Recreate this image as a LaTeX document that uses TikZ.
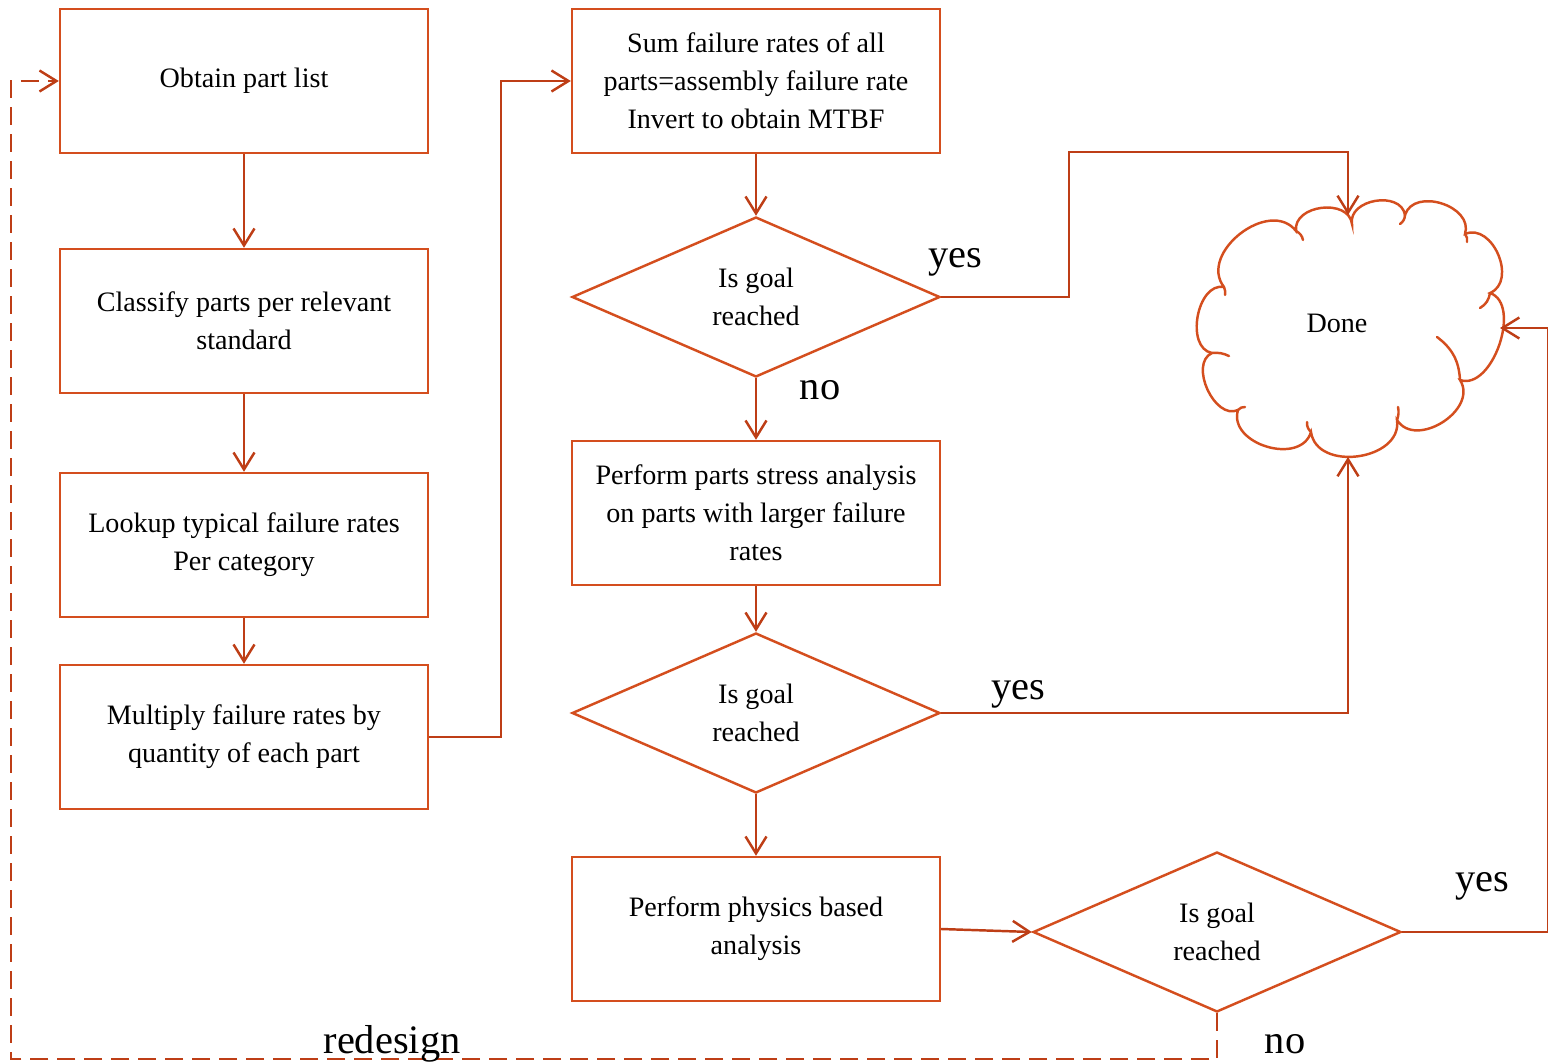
\documentclass[tikz,border=0pt]{standalone}
\usepackage{fontspec}
\setmainfont{Liberation Serif}
\usetikzlibrary{shapes.geometric,arrows.meta}
\definecolor{boxc}{RGB}{212,78,30}
\definecolor{linec}{RGB}{190,62,22}
\begin{document}
\begin{tikzpicture}[x=0.02cm,y=-0.02cm,
 txt/.style={font=\fontsize{16}{21.6}\selectfont},
 stepbox/.style={draw=boxc, line width=1.4pt, minimum width=7.36cm, minimum height=2.88cm, align=center, inner sep=0pt, txt},
 decision/.style={draw=boxc, diamond, aspect=2.3, line width=1.4pt, minimum width=7.36cm, minimum height=3.2cm, inner sep=0pt, align=center, txt},
 conn/.style={draw=linec, line width=1.4pt, -{Straight Barb[length=0.34cm,width=0.42cm]}},
 lab/.style={font=\fontsize{23}{27}\selectfont, inner sep=0pt},
 cloudline/.style={draw=boxc, line width=1.4pt, line cap=round},
 puff/.style={bend left=90, looseness=1.2}
]
\useasboundingbox (0,0) rectangle (1548,1064);

\node[stepbox] (o1) at (244,81) {Obtain part list};
\node[stepbox] (o2) at (244,321) {Classify parts per relevant\\standard};
\node[stepbox] (o3) at (244,545) {Lookup typical failure rates\\Per category};
\node[stepbox] (o4) at (244,737) {Multiply failure rates by\\quantity of each part};

\node[stepbox] (s1) at (756,81) {Sum failure rates of all\\parts=assembly failure rate\\Invert to obtain MTBF};
\node[decision] (d1) at (756,297) {Is goal\\reached};
\node[stepbox] (s2) at (756,513) {Perform parts stress analysis\\on parts with larger failure\\rates};
\node[decision] (d2) at (756,713) {Is goal\\reached};
\node[stepbox] (s3) at (756,929) {Perform physics based\\analysis};
\node[decision] (d3) at (1217,932) {Is goal\\reached};

% cloud "Done"
\coordinate (cJ) at (1224,287);
\coordinate (cK) at (1296,231);
\coordinate (cA) at (1352,224);
\coordinate (cB) at (1405,215);
\coordinate (cC) at (1465,234);
\coordinate (cD) at (1490,293);
\coordinate (cE) at (1460,380);
\coordinate (cF) at (1397,420);
\coordinate (cG) at (1311,432);
\coordinate (cH) at (1238,410);
\coordinate (cI) at (1212,353);
\draw[cloudline] (cJ) to[puff] (cK) to[puff] (cA) to[puff] (cB) to[puff] (cC)
  to[puff] (cD) to[bend left=90, looseness=0.95] (cE) to[puff] (cF) to[puff] (cG) to[puff] (cH)
  to[puff,looseness=1.05] (cI) to[puff,looseness=1.05] (cJ);
\draw[cloudline] (cK) to[bend left=25] (1303,240);
\draw[cloudline] (cB) to[bend left=25] (1400,224);
\draw[cloudline] (cC) to[bend left=25] (1467,242);
\draw[cloudline] (cD) to[bend left=25] (1480,308);
\draw[cloudline] (1437,337) to[bend left=25] (cE);
\draw[cloudline] (1398,407) to[bend left=15] (cF);
\draw[cloudline] (cG) to[bend left=25] (1307,422);
\draw[cloudline] (cH) to[bend left=25] (1245,407);
\draw[cloudline] (cI) to[bend left=15] (1229,356);
\draw[cloudline] (cJ) to[bend left=15] (1225,295);
\node[txt] (done) at (1337,323) {Done};
\coordinate (dtop) at (1348,215);
\coordinate (dbot) at (1348,457);
\coordinate (dright) at (1500,328);

\draw[conn] (o1) -- (o2);
\draw[conn] (o2) -- (o3);
\draw[conn] (o3) -- (o4);
\draw[conn] (o4.east) -- ++(72,0) |- (s1.west);
\draw[conn] (s1) -- (d1);
\draw[conn] (d1) -- (s2);
\draw[conn] (s2) -- (d2);
\draw[conn] (d2) -- (s3);
\draw[conn] (s3.east) -- (d3.west);
\draw[conn] (d1.east) -- ++(128,0) -- ++(0,-145) -| (dtop);
\draw[conn] (d2.east) -| (dbot);
\draw[conn] (d3.east) -- ++(146,0) |- (dright);
\draw[conn, dash pattern=on 0.36cm off 0.18cm] (d3.south) -- ++(0,46) -| ([xshift=-0.96cm]o1.west) -- (o1.west);

\node[lab] (y1) at (955,262) {yes};
\node[lab] (n1) at (820,390) {no};
\node[lab] (y2) at (1018,694) {yes};
\node[lab] (y3) at (1482,886) {yes};
\node[lab] (rd) at (392,1044) {redesign};
\node[lab] (n3) at (1285,1044) {no};
\end{tikzpicture}
\end{document}
